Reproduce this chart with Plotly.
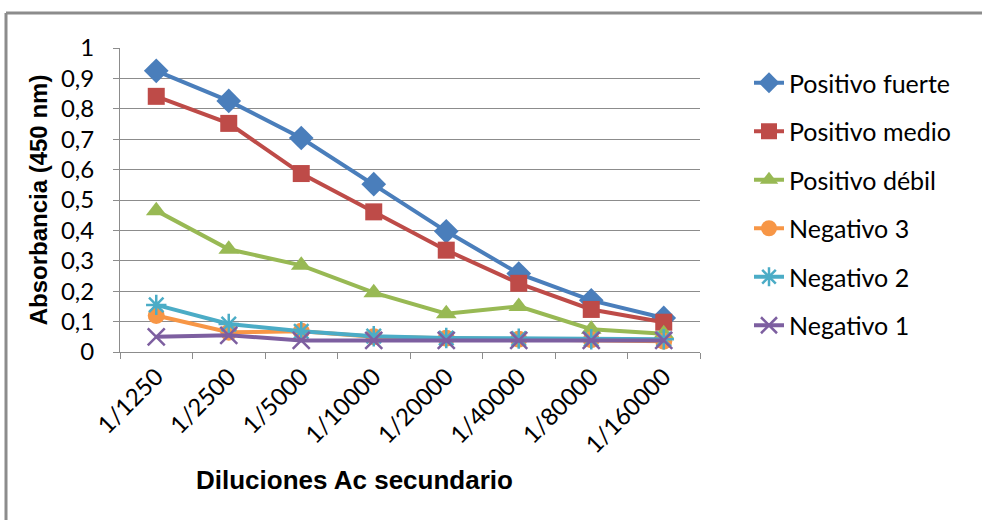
import plotly.graph_objects as go

categories = ["1/1250", "1/2500", "1/5000", "1/10000", "1/20000", "1/40000", "1/80000", "1/160000"]
positivo_fuerte = [0.925, 0.826, 0.704, 0.552, 0.397, 0.258, 0.17, 0.112]
positivo_medio = [0.841, 0.752, 0.587, 0.461, 0.335, 0.226, 0.14, 0.098]
positivo_debil = [0.465, 0.338, 0.285, 0.195, 0.126, 0.15, 0.075, 0.06]
negativo_3 = [0.12, 0.065, 0.068, 0.05, 0.045, 0.042, 0.04, 0.035]
negativo_2 = [0.155, 0.092, 0.068, 0.052, 0.046, 0.044, 0.042, 0.042]
negativo_1 = [0.05, 0.055, 0.038, 0.038, 0.038, 0.038, 0.038, 0.038]

series = [
    ("Positivo fuerte", positivo_fuerte, "#4A7EBB", "diamond", 19, 0),
    ("Positivo medio", positivo_medio, "#BE4B48", "square", 17, 0),
    ("Positivo débil", positivo_debil, "#98B954", "triangle-up", 18, 0),
    ("Negativo 3", negativo_3, "#F79646", "circle", 17, 0),
    ("Negativo 2", negativo_2, "#4BACC6", "asterisk-open", 17, 2.5),
    ("Negativo 1", negativo_1, "#7D5FA0", "x-thin-open", 17, 2.5),
]

fig = go.Figure()
for i, (name, vals, color, sym, size, lw) in enumerate(series):
    marker = dict(symbol=sym, size=size, color=color)
    if lw:
        marker["line"] = dict(color=color, width=lw)
    else:
        marker["line"] = dict(width=0)
    fig.add_trace(go.Scatter(
        x=categories, y=vals, name=name, mode="lines+markers",
        line=dict(color=color, width=4), marker=marker,
        legendgroup="g%d" % i,
    ))

W, H = 982, 520
L, R, T, B = 120, 282, 48, 168
pw = W - L - R
ph = H - T - B

def px_x(p):
    return (p - L) / pw

def px_y(p):
    return (H - B - p) / ph

grid = "#8C8C8C"
fig.update_layout(
    width=W, height=H,
    margin=dict(l=L, r=R, t=T, b=B),
    paper_bgcolor="white", plot_bgcolor="white",
    separators=",.",
    font=dict(family="Lato, Carlito, sans-serif", color="black"),
    showlegend=True,
    legend=dict(
        x=px_x(749), y=px_y(60), xanchor="left", yanchor="top",
        font=dict(size=25, family="Lato, sans-serif", color="black"),
        tracegroupgap=13, bgcolor="rgba(0,0,0,0)",
    ),
    xaxis=dict(
        type="category", showgrid=False, showline=True, linecolor=grid, linewidth=1,
        ticks="outside", tickson="boundaries", ticklen=6, tickcolor=grid,
        tickangle=-45, tickfont=dict(size=24, family="Lato, sans-serif", color="black"),
        range=[-0.5, 7.5],
    ),
    yaxis=dict(
        range=[0, 1], dtick=0.1, showgrid=True, gridcolor=grid, gridwidth=1,
        showline=True, linecolor=grid, linewidth=1, zeroline=False,
        ticks="outside", ticklen=6, tickcolor=grid,
        tickfont=dict(size=24, family="Lato, sans-serif", color="black"),
        ticklabelstandoff=14,
        title=dict(text="<b>Absorbancia (450 nm)</b>",
                   font=dict(size=24, family="Liberation Sans, Arial, sans-serif", color="black"),
                   standoff=6),
    ),
    annotations=[dict(
        text="<b>Diluciones Ac secundario</b>", xref="paper", yref="paper",
        x=px_x(354), y=px_y(480), xanchor="center", yanchor="middle", showarrow=False,
        font=dict(size=26, family="Liberation Sans, Arial, sans-serif", color="black"),
    )],
    shapes=[
        dict(type="line", xref="paper", yref="paper", x0=px_x(6), x1=px_x(1200),
             y0=px_y(13), y1=px_y(13), line=dict(color="#8C8C8C", width=3)),
        dict(type="line", xref="paper", yref="paper", x0=px_x(6), x1=px_x(6),
             y0=px_y(13), y1=px_y(700), line=dict(color="#8C8C8C", width=3)),
    ],
)

fig.write_html("out.html")
